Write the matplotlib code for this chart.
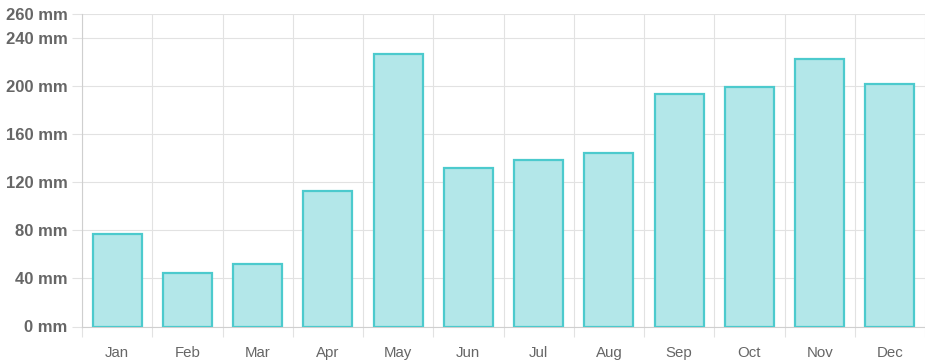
import numpy as np
import matplotlib.pyplot as plt
from matplotlib.ticker import FixedLocator

months = ['Jan', 'Feb', 'Mar', 'Apr', 'May', 'Jun', 'Jul', 'Aug', 'Sep', 'Oct', 'Nov', 'Dec']
rainfall = [77.0, 44.5, 52.2, 113.0, 226.5, 131.7, 138.5, 144.0, 193.5, 199.3, 222.3, 201.5]
y_ticks = [0, 40, 80, 120, 160, 200, 240, 260]

plt.rcParams['font.family'] = ['Liberation Sans', 'DejaVu Sans']

fig = plt.figure(figsize=(9.25, 3.62), dpi=100)
ax = fig.add_axes([82 / 925, 1 - 326.5 / 362, 843 / 925, (326.5 - 14) / 362])

x = np.arange(len(months))
ax.bar(x, rainfall, width=0.7, color='#b3e7e9', edgecolor='#4ccacd', linewidth=1.6, zorder=3)

ax.set_xlim(-0.5, len(months) - 0.5)
ax.set_ylim(0, 260)

ax.set_xticks(x)
ax.set_xticklabels(months)
ax.xaxis.set_minor_locator(FixedLocator(np.arange(-0.5, len(months), 1.0)))
ax.set_yticks(y_ticks)
ax.set_yticklabels([f'{v} mm' for v in y_ticks])

ax.tick_params(axis='x', which='major', length=0, pad=14, labelsize=10.8, labelcolor='#666666')
ax.tick_params(axis='x', which='minor', length=7.5, color='#e2e2e2', width=0.8)
ax.tick_params(axis='y', length=7.5, color='#e2e2e2', width=0.8, pad=3, labelsize=12, labelcolor='#666666')
for lbl in ax.get_yticklabels():
    lbl.set_fontweight('bold')

ax.grid(axis='y', color='#e2e2e2', linewidth=0.8, zorder=0)
ax.grid(axis='x', which='minor', color='#e2e2e2', linewidth=0.8, zorder=0)
ax.set_axisbelow(True)

for side in ['top', 'right']:
    ax.spines[side].set_visible(False)
ax.spines['left'].set_color('#cfcfcf')
ax.spines['bottom'].set_color('#cfcfcf')
ax.spines['left'].set_linewidth(0.8)
ax.spines['bottom'].set_linewidth(0.8)

fig.savefig('out.png', dpi=100)
